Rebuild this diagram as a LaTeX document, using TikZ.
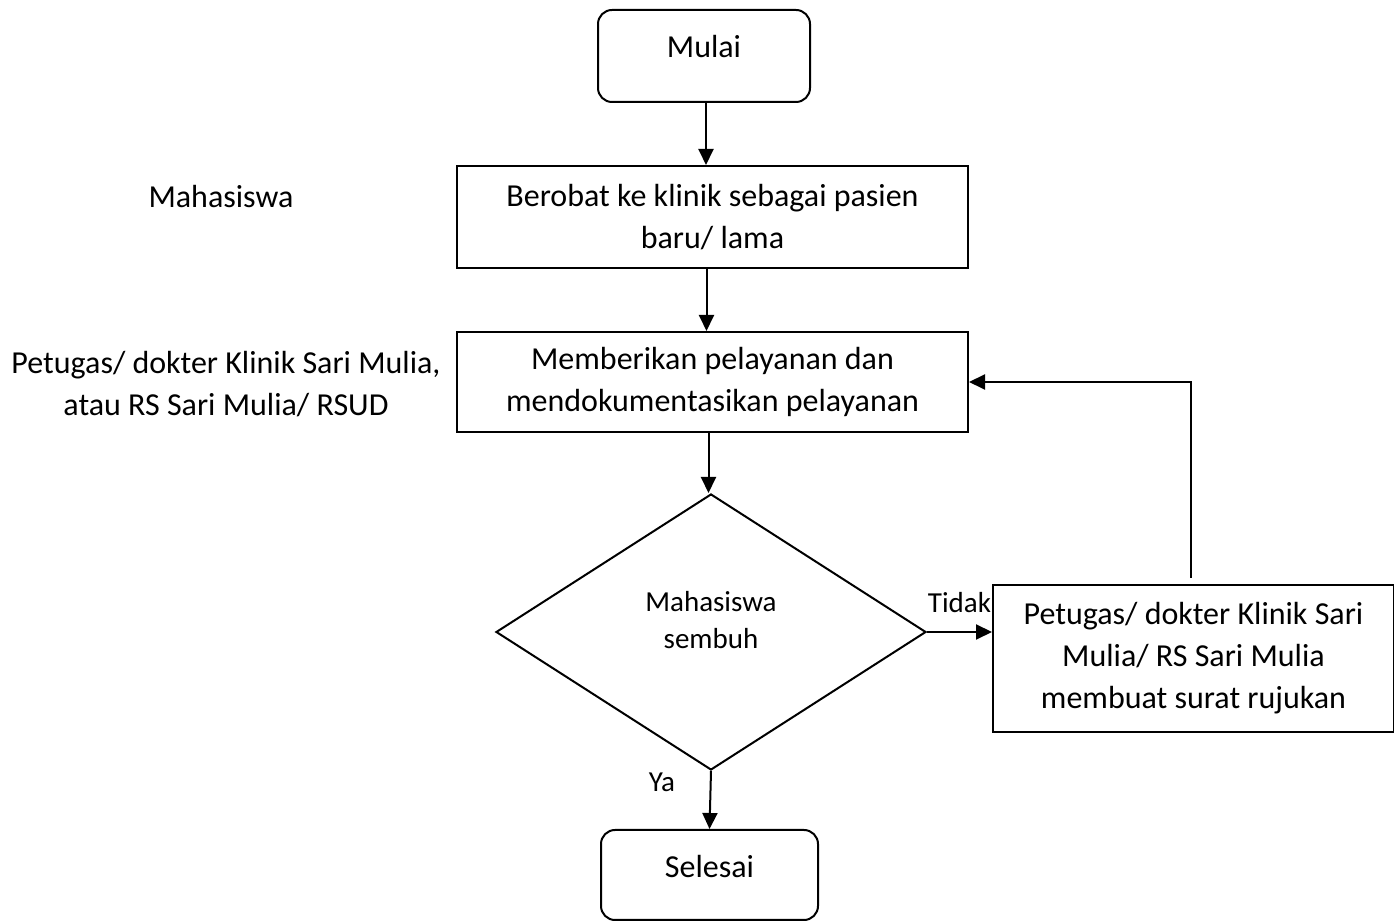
\documentclass[tikz,border=0pt]{standalone}
\usepackage{fontspec}
\setmainfont{Carlito}
\usetikzlibrary{arrows.meta,positioning,shapes.geometric}

\begin{document}
\begin{tikzpicture}[
    x=0.5pt, y=-0.5pt,
    font=\fontsize{16}{21}\selectfont,
    line width=1pt,
    terminal/.style={draw, rounded corners=7pt, inner sep=0pt, text height=24pt, text depth=22pt},
    process/.style={draw, align=center, inner sep=0pt},
    decision/.style={draw, diamond, align=center, inner sep=0pt, text height=30pt, text depth=13pt, minimum width=215pt, minimum height=138pt, font=\fontsize{14.5}{18.5}\selectfont},
    role/.style={align=center},
    small/.style={font=\fontsize{14.5}{17}\selectfont},
    flow/.style={-{Triangle[length=8pt,width=7.5pt]}}
]
\useasboundingbox (0,0) rectangle (1394,924);

\node[terminal, minimum width=106pt] (mulai) at (704,56) {Mulai};
\node[process, minimum width=255.5pt, minimum height=51pt] (berobat) at (712.5,217) {Berobat ke klinik sebagai pasien\\baru/ lama};
\node[process, minimum width=255.5pt, minimum height=50pt] (layanan) at (712.5,382) {Memberikan pelayanan dan\\mendokumentasikan pelayanan};
\node[decision] (cek) at (711,632) {Mahasiswa\\sembuh};
\node[process, minimum width=200.5pt, minimum height=73.5pt] (rujuk) at (1193.5,658.5) {Petugas/ dokter Klinik Sari\\Mulia/ RS Sari Mulia\\membuat surat rujukan};
\node[terminal, minimum width=108.5pt, text depth=21pt] (selesai) at (709.5,875) {Selesai};

% pelaku
\node[role] (mhs) at (221,197) {Mahasiswa};
\node[role] (petugas) at (226,384) {Petugas/ dokter Klinik Sari Mulia,\\atau RS Sari Mulia/ RSUD};

\draw[flow] (mulai.south) ++(2,0) coordinate (m1) -- (m1 |- berobat.north);
\draw[flow] (berobat.south) ++(-6,0) coordinate (b1) -- (b1 |- layanan.north);
\draw[flow] (layanan.south) ++(-4,0) coordinate (l1) -- (l1 |- cek.north);
\draw[flow] (cek.east) -- node[small, above=6pt] {Tidak} (rujuk.west |- cek.east);
\draw[flow] (rujuk.north) ++(-3,-6) coordinate (r1) |- (layanan.east);
\draw[flow] (cek.south) -- node[small, pos=0.2, left=14pt] {Ya} (selesai.north);
\end{tikzpicture}
\end{document}
